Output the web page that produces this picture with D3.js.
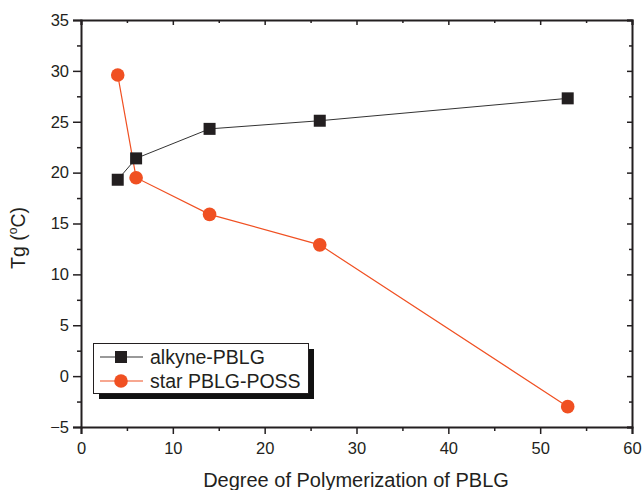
<!DOCTYPE html>
<html><head><meta charset="utf-8">
<script src="https://cdn.jsdelivr.net/npm/d3@7"></script>
<style>body{margin:0;background:#fff}svg text{font-family:"Liberation Sans",Arial,sans-serif;fill:#231f20}</style>
</head><body><svg id="c" width="643" height="490"></svg>
<script>
const dp = [4, 6, 14, 26, 53];
const alkyne = [19.3, 21.4, 24.3, 25.1, 27.3];
const star = [29.6, 19.5, 15.9, 12.9, -3.0];
const xTicks = [0, 10, 20, 30, 40, 50, 60];
const yTicks = [-5, 0, 5, 10, 15, 20, 25, 30, 35];
const seriesNames = ["alkyne-PBLG", "star PBLG-POSS"];

const svg = d3.select("#c");
const L = 81, R = 632, T = 20, B = 427;
const x = d3.scaleLinear().domain([0, 60]).range([L, R]);
const y = d3.scaleLinear().domain([-5, 35]).range([B, T]);
const ink = "#231f20", orange = "#f05022";

const xMinor = d3.range(5, 60, 10), yMinor = d3.range(-2.5, 35, 5);

// bottom axis
svg.append("g").attr("transform", `translate(0,${B})`)
  .call(d3.axisBottom(x).tickValues(xTicks).tickSize(7).tickPadding(8).tickFormat(d3.format("d")));
svg.append("g").attr("transform", `translate(0,${B})`)
  .call(d3.axisBottom(x).tickValues(xMinor).tickSize(4).tickFormat("")).select(".domain").remove();
// left axis
svg.append("g").attr("transform", `translate(${L},0)`)
  .call(d3.axisLeft(y).tickValues(yTicks).tickSize(8).tickPadding(4).tickFormat(d3.format("d")));
svg.append("g").attr("transform", `translate(${L},0)`)
  .call(d3.axisLeft(y).tickValues(yMinor).tickSize(4).tickFormat("")).select(".domain").remove();
// top axis (inward)
svg.append("g").attr("transform", `translate(0,${T})`)
  .call(d3.axisTop(x).tickValues(xTicks).tickSize(-5).tickFormat(""));
svg.append("g").attr("transform", `translate(0,${T})`)
  .call(d3.axisTop(x).tickValues(xMinor).tickSize(-3).tickFormat("")).select(".domain").remove();
// right axis (inward)
svg.append("g").attr("transform", `translate(${R},0)`)
  .call(d3.axisRight(y).tickValues(yTicks).tickSize(-5).tickFormat(""));
svg.append("g").attr("transform", `translate(${R},0)`)
  .call(d3.axisRight(y).tickValues(yMinor).tickSize(-3).tickFormat("")).select(".domain").remove();

svg.selectAll(".domain").attr("stroke", ink).attr("stroke-width", 2);
svg.selectAll(".tick line").attr("stroke", ink).attr("stroke-width", 1.5);
svg.selectAll(".tick text").attr("font-size", 16.5).attr("fill", ink)
  .attr("font-family", '"Liberation Sans",Arial,sans-serif');

// axis titles
svg.append("text").attr("x", 356).attr("y", 487).attr("text-anchor", "middle")
  .attr("font-size", 20).text("Degree of Polymerization of PBLG");
const yt = svg.append("text").attr("transform", "translate(25,238) rotate(-90)")
  .attr("text-anchor", "middle").attr("font-size", 19.5);
yt.append("tspan").text("Tg (");
yt.append("tspan").attr("font-size", 12).attr("dy", -8).text("o");
yt.append("tspan").attr("dy", 8).text("C)");

// lines
const line = d3.line().x(d => x(d[0])).y(d => y(d[1]));
const aPts = dp.map((d, i) => [d, alkyne[i]]);
const sPts = dp.map((d, i) => [d, star[i]]);
svg.append("path").attr("d", line(aPts)).attr("fill", "none").attr("stroke", "#333").attr("stroke-width", 1);
svg.append("path").attr("d", line(sPts)).attr("fill", "none").attr("stroke", orange).attr("stroke-width", 1.2);

// markers
const sq = 12;
svg.selectAll("rect.a").data(aPts).enter().append("rect")
  .attr("x", d => x(d[0]) - sq / 2).attr("y", d => y(d[1]) - sq / 2)
  .attr("width", sq).attr("height", sq).attr("fill", ink);
svg.selectAll("circle.s").data(sPts).enter().append("circle")
  .attr("cx", d => x(d[0])).attr("cy", d => y(d[1])).attr("r", 6.8).attr("fill", orange);

// legend
const lg = svg.append("g");
lg.append("rect").attr("x", 99).attr("y", 349).attr("width", 215).attr("height", 50).attr("fill", "#111");
lg.append("rect").attr("x", 93.5).attr("y", 343.5).attr("width", 215).attr("height", 50)
  .attr("fill", "#fff").attr("stroke", ink).attr("stroke-width", 1);
const rows = [357, 381];
lg.append("line").attr("x1", 100).attr("x2", 143).attr("y1", rows[0]).attr("y2", rows[0]).attr("stroke", "#777").attr("stroke-width", 1.5);
lg.append("rect").attr("x", 121 - 6).attr("y", rows[0] - 6).attr("width", 12).attr("height", 12).attr("fill", ink);
lg.append("line").attr("x1", 100).attr("x2", 143).attr("y1", rows[1]).attr("y2", rows[1]).attr("stroke", orange).attr("stroke-width", 1.2);
lg.append("circle").attr("cx", 121).attr("cy", rows[1]).attr("r", 6.8).attr("fill", orange);
seriesNames.forEach((n, i) => {
  lg.append("text").attr("x", 150).attr("y", rows[i] + 6.5).attr("font-size", 19.5).text(n);
});
</script></body></html>
